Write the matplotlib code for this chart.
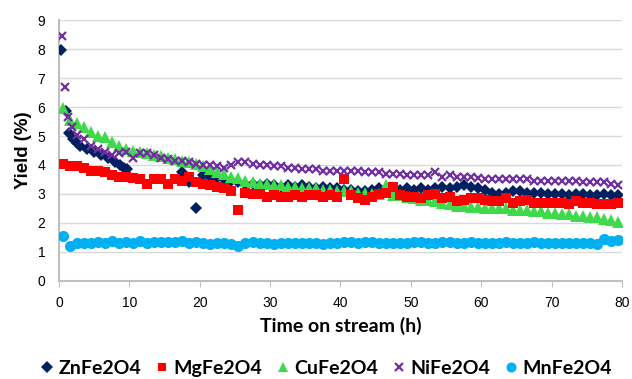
import numpy as np
import matplotlib
matplotlib.use("Agg")
from matplotlib import pyplot as plt

# ZnFe2O4 - gap between ~10 h and ~17 h
t_zn = [0.3, 1.0, 1.4, 2.0, 2.5, 3.0, 4.0, 5.0, 6.0, 7.0, 8.0, 8.6, 9.2, 9.7,
        17.5, 18.5, 19.5] + list(np.arange(20.5, 80, 1.0))
y_zn = [7.95, 5.85, 5.1, 4.9, 4.75, 4.65, 4.55, 4.45, 4.35, 4.25, 4.1, 4.0, 3.9, 3.85,
        3.75, 3.4, 2.5,
        3.65, 3.6, 3.55, 3.5, 3.45, 3.4, 3.35, 3.35, 3.3, 3.35,
        3.3, 3.25, 3.3, 3.25, 3.3, 3.25, 3.2, 3.25, 3.2, 3.2,
        3.15, 3.15, 3.1, 3.1, 3.15, 3.2, 3.15, 3.2, 3.15, 3.2,
        3.15, 3.2, 3.15, 3.2, 3.25, 3.2, 3.25, 3.3, 3.25, 3.2,
        3.15, 3.05, 3.0, 3.05, 3.1, 3.1, 3.05, 3.05, 3.05, 3.0,
        3.0, 3.0, 2.95, 3.0, 3.0, 2.95, 2.95, 3.0, 2.95, 2.95]

t_grid = list(np.arange(0.5, 80, 1.0))

y_mg = [4.05, 3.95, 3.95, 3.9, 3.8, 3.8, 3.75, 3.65, 3.6, 3.6,
        3.55, 3.5, 3.35, 3.5, 3.5, 3.35, 3.5, 3.45, 3.6, 3.4,
        3.35, 3.3, 3.25, 3.2, 3.1, 2.45, 3.05, 3.0, 3.0, 2.9,
        2.95, 2.9, 2.9, 2.95, 2.9, 2.95, 2.95, 2.9, 2.95, 2.9,
        3.5, 2.95, 2.85, 2.8, 2.9, 3.0, 3.05, 3.25, 2.95, 2.9,
        2.9, 2.85, 2.95, 3.0, 2.85, 2.9, 2.75, 2.8, 2.85, 2.85,
        2.8, 2.75, 2.75, 2.85, 2.7, 2.75, 2.8, 2.7, 2.7, 2.7,
        2.7, 2.7, 2.65, 2.75, 2.7, 2.7, 2.65, 2.65, 2.65, 2.7]

y_cu = [5.95, 5.55, 5.45, 5.3, 5.15, 5.0, 4.95, 4.8, 4.65, 4.55,
        4.5, 4.45, 4.4, 4.35, 4.3, 4.25, 4.2, 4.15, 4.1, 4.05,
        3.95, 3.85, 3.75, 3.7, 3.6, 3.55, 3.45, 3.4, 3.35, 3.35,
        3.3, 3.3, 3.25, 3.25, 3.2, 3.2, 3.2, 3.15, 3.15, 3.1,
        3.1, 3.1, 3.05, 3.05, 3.0, 3.0, 3.3, 2.95, 2.95, 2.9,
        2.85, 2.8, 2.8, 2.75, 2.7, 2.65, 2.6, 2.6, 2.55, 2.55,
        2.5, 2.5, 2.5, 2.5, 2.45, 2.45, 2.45, 2.4, 2.4, 2.35,
        2.35, 2.3, 2.3, 2.25, 2.25, 2.2, 2.2, 2.15, 2.1, 2.05]

t_ni = [0.4, 0.9, 1.3, 1.8] + list(np.arange(2.5, 80, 1.0))
y_ni = [8.45, 6.7, 5.65, 5.3,
        5.05, 4.9, 4.65, 4.55, 4.45, 4.35, 4.4, 4.45, 4.25, 4.4,
        4.4, 4.35, 4.25, 4.2, 4.15, 4.15, 4.1, 4.05, 4.0, 4.0,
        3.95, 3.9, 4.0, 4.1, 4.1, 4.05, 4.0, 4.0, 3.95, 3.95,
        3.9, 3.9, 3.85, 3.85, 3.85, 3.8, 3.8, 3.8, 3.8, 3.8,
        3.8, 3.75, 3.75, 3.75, 3.7, 3.7, 3.7, 3.65, 3.65, 3.65,
        3.65, 3.75, 3.6, 3.65, 3.6, 3.6, 3.6, 3.55, 3.5, 3.5,
        3.5, 3.5, 3.5, 3.5, 3.5, 3.45, 3.45, 3.45, 3.45, 3.45,
        3.45, 3.45, 3.4, 3.4, 3.4, 3.4, 3.35, 3.3]

y_mn = [1.55, 1.2, 1.3, 1.3, 1.3, 1.35, 1.3, 1.38, 1.3, 1.35,
        1.3, 1.37, 1.3, 1.33, 1.35, 1.33, 1.35, 1.38, 1.32, 1.33,
        1.32, 1.28, 1.3, 1.3, 1.27, 1.22, 1.3, 1.35, 1.3, 1.3,
        1.28, 1.3, 1.3, 1.32, 1.3, 1.32, 1.3, 1.27, 1.3, 1.32,
        1.33, 1.33, 1.32, 1.33, 1.33, 1.32, 1.3, 1.3, 1.32, 1.32,
        1.33, 1.33, 1.32, 1.32, 1.33, 1.33, 1.32, 1.32, 1.33, 1.32,
        1.32, 1.32, 1.32, 1.33, 1.32, 1.3, 1.32, 1.33, 1.32, 1.3,
        1.32, 1.32, 1.32, 1.32, 1.32, 1.3, 1.28, 1.45, 1.38, 1.42]

xticks = [0, 10, 20, 30, 40, 50, 60, 70, 80]
yticks = [0, 1, 2, 3, 4, 5, 6, 7, 8, 9]

lab_font = ["Lato", "DejaVu Sans"]
plt.rcParams["font.family"] = ["Liberation Sans", "DejaVu Sans"]

fig = plt.figure(figsize=(6.32, 3.79), dpi=100)
ax = fig.add_axes([0.0934, 0.2586, 0.8906, 0.6886])

h_zn, = ax.plot(t_zn, y_zn, "D", color="#002060", ms=6.5, mew=0, zorder=3, label="ZnFe2O4")
h_cu, = ax.plot(t_grid, y_cu, "^", color="#3FD94B", ms=8.5, mew=0, zorder=4, label="CuFe2O4")
h_mg, = ax.plot(t_grid, y_mg, "s", color="#FF0000", ms=7, mew=0, zorder=5, label="MgFe2O4")
h_ni, = ax.plot(t_ni, y_ni, "x", color="#7030A0", ms=6, mew=1.6, zorder=6, label="NiFe2O4")
h_mn, = ax.plot(t_grid, y_mn, "o", color="#00B0F0", ms=8, mew=0, zorder=7, label="MnFe2O4")

ax.set_xlim(0, 80)
ax.set_ylim(0, 9)
ax.set_xticks(xticks)
ax.set_yticks(yticks)
ax.tick_params(axis="x", length=4, color="#BFBFBF", labelsize=10, pad=7)
ax.tick_params(axis="y", length=0, labelsize=10, pad=10)
ax.grid(axis="y", color="#D9D9D9", lw=1)
ax.set_axisbelow(True)
for s in ["top", "right"]:
    ax.spines[s].set_visible(False)
for s in ["left", "bottom"]:
    ax.spines[s].set_color("#BFBFBF")
    ax.spines[s].set_linewidth(1.5)

ax.set_ylabel("Yield (%)", fontsize=13.4, fontweight="bold", labelpad=4)
ax.set_xlabel("Time on stream (h)", fontsize=14, fontweight="bold", family=lab_font, labelpad=5)

fig.legend(handles=[h_zn, h_mg, h_cu, h_ni, h_mn], loc="center", ncol=5,
           frameon=False, markerscale=0.9, handlelength=0.8, handletextpad=0.2,
           columnspacing=0.65, borderaxespad=0, bbox_to_anchor=(0.515, 0.028),
           prop={"family": lab_font, "weight": "bold", "size": 14})

fig.savefig("out.png", dpi=100)
